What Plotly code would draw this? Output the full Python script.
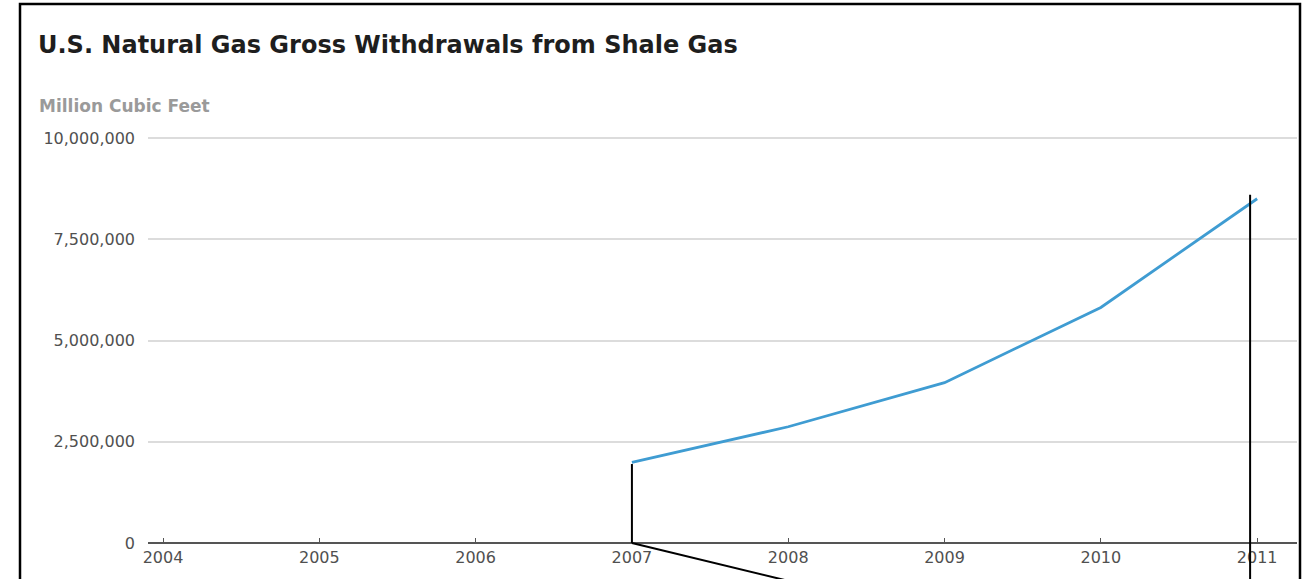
import plotly.graph_objects as go

# ---- data ----
years = [2007, 2008, 2009, 2010, 2011]
withdrawals = [1990145, 2870422, 3958315, 5817122, 8500983]  # million cubic feet
x_ticks = [2004, 2005, 2006, 2007, 2008, 2009, 2010, 2011]
y_ticks = [0, 2500000, 5000000, 7500000, 10000000]

title_text = "U.S. Natural Gas Gross Withdrawals from Shale Gas"
unit_text = "Million Cubic Feet"

# ---- layout geometry ----
FIG_W, FIG_H = 1310, 579
ML, MR, MT, MB = 148, 13, 136, 36
PW, PH = FIG_W - ML - MR, FIG_H - MT - MB
X0, X1 = 2003.904, 2011.255
Y0, Y1 = 0, 10050000

FONT = "DejaVu Sans"


def fx(v):
    return (v - X0) / (X1 - X0)


def fy(v):
    return (v - Y0) / (Y1 - Y0)


def px_x(p):
    return (p - ML) / PW


def px_y(p):
    return (MT + PH - p) / PH


fig = go.Figure()
fig.add_trace(go.Scatter(
    x=years, y=withdrawals, mode="lines",
    line=dict(color="#3f9cd2", width=2.8),
    hoverinfo="x+y", showlegend=False,
))

line_style = dict(color="black", width=2)
shapes = [
    # chart frame
    dict(type="rect", xref="paper", yref="paper",
         x0=px_x(20), x1=px_x(1300), y0=px_y(4), y1=px_y(600),
         line=dict(color="black", width=2.5), fillcolor="rgba(0,0,0,0)", layer="above"),
    # drop line under first point
    dict(type="line", xref="paper", yref="paper",
         x0=fx(years[0]), x1=fx(years[0]), y0=fy(0), y1=fy(withdrawals[0]) - 0.004,
         line=line_style, layer="above"),
    # diagonal pointer from first point's base
    dict(type="line", xref="paper", yref="paper",
         x0=fx(years[0]), y0=fy(0), x1=px_x(826), y1=px_y(590),
         line=line_style, layer="above"),
    # vertical line near last point
    dict(type="line", xref="paper", yref="paper",
         x0=fx(2010.955), x1=fx(2010.955), y0=fy(8600000), y1=px_y(600),
         line=line_style, layer="above"),
]

fig.update_layout(
    width=FIG_W, height=FIG_H, autosize=False,
    margin=dict(l=ML, r=MR, t=MT, b=MB, pad=0),
    paper_bgcolor="white", plot_bgcolor="white",
    font=dict(family=FONT, color="#505050", size=16),
    title=dict(text=title_text, xref="container", yref="container",
               x=38 / FIG_W, xanchor="left", y=1 - 45 / FIG_H, yanchor="middle",
               font=dict(family=FONT, size=24, color="#1e1e1e", weight="bold")),
    annotations=[dict(text=unit_text, xref="paper", yref="paper",
                      x=px_x(37), y=px_y(106), xanchor="left", yanchor="middle",
                      showarrow=False,
                      font=dict(family=FONT, size=17, color="#9a9a9a", weight="bold"))],
    shapes=shapes,
    xaxis=dict(range=[X0, X1], tickmode="array", tickvals=x_ticks,
               ticktext=[str(t) for t in x_ticks],
               showgrid=False, zeroline=False, showline=False,
               ticks="inside", ticklen=5, tickwidth=1, tickcolor="#555555",
               ticklabelstandoff=3,
               tickfont=dict(family=FONT, size=16, color="#505050"),
               fixedrange=True),
    yaxis=dict(range=[Y0, Y1], tickmode="array", tickvals=y_ticks,
               tickformat=",d", showgrid=True, gridcolor="#dcdcdc", gridwidth=1.5,
               zeroline=True, zerolinecolor="#555555", zerolinewidth=2.2,
               showline=False, ticks="", ticklabelstandoff=12,
               tickfont=dict(family=FONT, size=16, color="#505050"),
               fixedrange=True),
)

fig.write_html("out.html")
